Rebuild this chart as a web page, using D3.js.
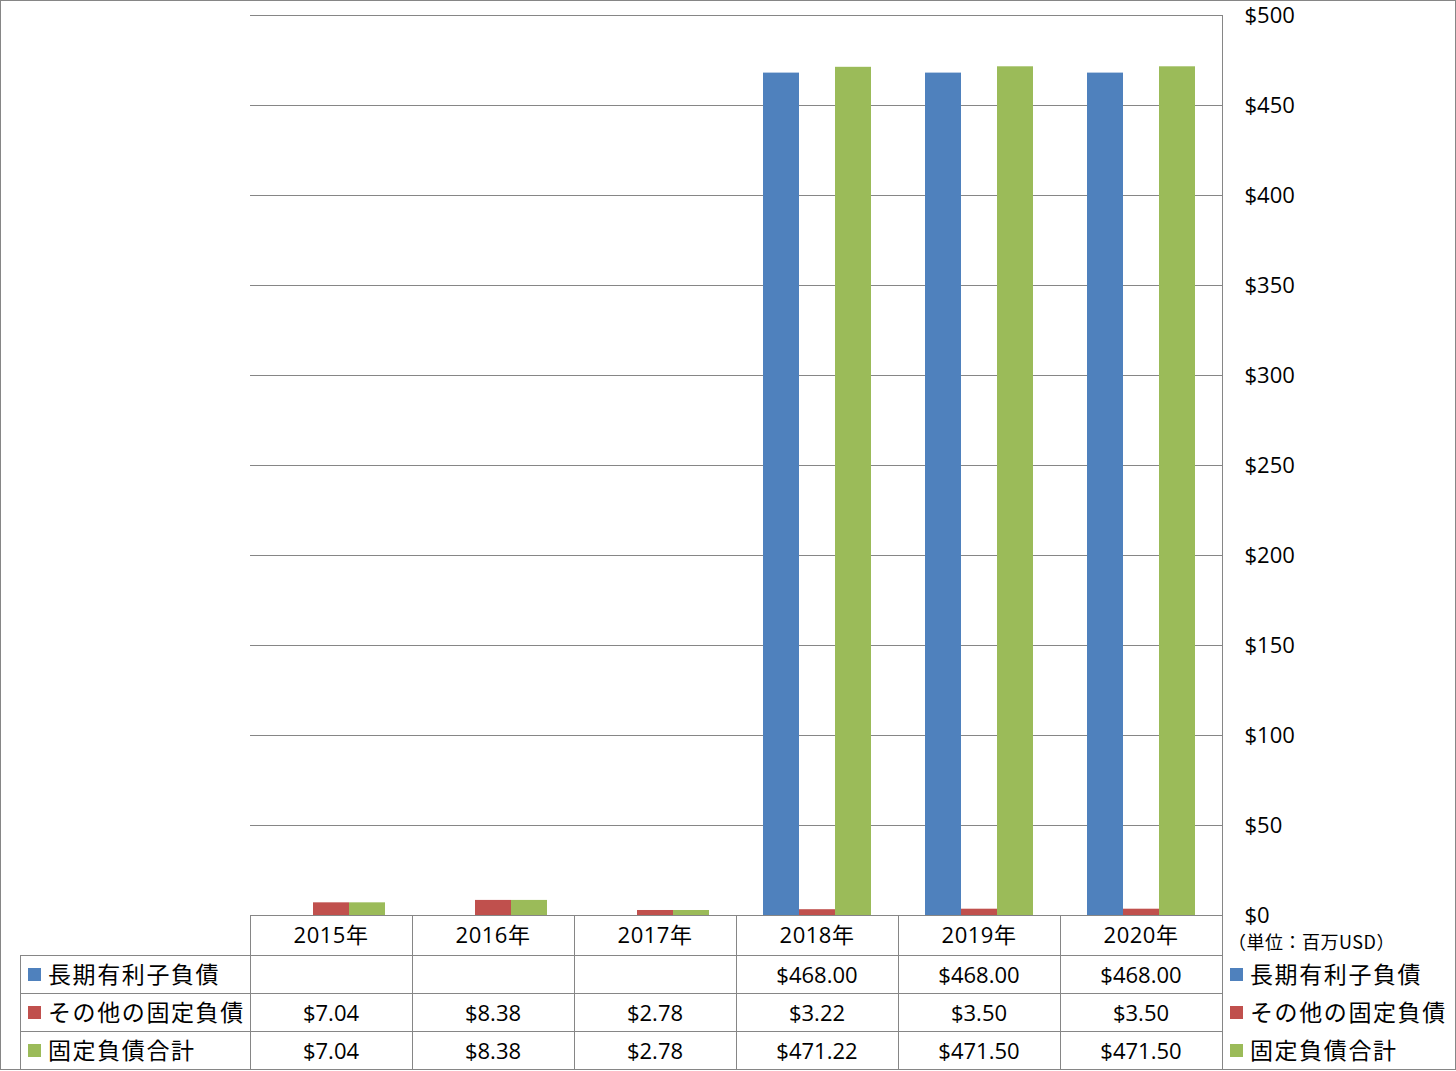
<!DOCTYPE html>
<html><head><meta charset="utf-8">
<script src="https://cdn.jsdelivr.net/npm/d3@7"></script>
<style>body{margin:0;background:#fff;}svg{display:block;font-family:"Noto Sans CJK JP","Noto Sans",sans-serif;}</style>
</head><body><svg id="c" width="1456" height="1071"></svg>
<script>
const categories = ["2015年","2016年","2017年","2018年","2019年","2020年"];
const seriesNames = ["長期有利子負債","その他の固定負債","固定負債合計"];
const seriesColors = ["#4F81BD","#C0504D","#9BBB59"];
const longTermDebt = [null,null,null,468.00,468.00,468.00];
const otherFixed = [7.04,8.38,2.78,3.22,3.50,3.50];
const totalFixed = [7.04,8.38,2.78,471.22,471.50,471.50];
const yTicks = [0,50,100,150,200,250,300,350,400,450,500];
const unitLabel = "（単位：百万USD）";

const series = [longTermDebt, otherFixed, totalFixed];
const svg = d3.select("#c");
const grid = "#868686";
const numFont = "'Open Sans','Noto Sans CJK JP',sans-serif";
const L = 250, R = 1222, T = 15, B = 915;

svg.append("rect").attr("x",0.5).attr("y",0.5).attr("width",1455).attr("height",1069)
  .attr("fill","#fff").attr("stroke",grid);

const x0 = d3.scaleBand().domain(categories).range([L,R]);
const x1 = d3.scaleBand().domain(d3.range(3)).range([27, x0.bandwidth()-27]);
const y = d3.scaleLinear().domain([0,500]).range([B,T]);

// gridlines
svg.append("g").selectAll("line").data(yTicks).join("line")
  .attr("x1",L).attr("x2",R).attr("y1",d=>Math.round(y(d))+0.5).attr("y2",d=>Math.round(y(d))+0.5)
  .attr("stroke",grid).attr("stroke-width",1);

// right axis
const axis = d3.axisRight(y).tickValues(yTicks).tickSize(0).tickPadding(22).tickFormat(d=>"$"+d);
const ag = svg.append("g").attr("transform",`translate(${R+0.5},0)`).call(axis);
ag.select(".domain").attr("stroke",grid).attr("d",`M0,${T}V${B+154}`);
ag.selectAll("text").attr("font-size",22).attr("fill","#000").attr("font-family",numFont).attr("dy","0.32em");

// bars
const g = svg.append("g");
categories.forEach((c,i)=>{
  series.forEach((s,j)=>{
    const v = s[i];
    if (v==null) return;
    g.append("rect").attr("x",x0(c)+x1(j)).attr("width",x1.bandwidth())
      .attr("y",y(v)).attr("height",y(0)-y(v)).attr("fill",seriesColors[j]);
  });
});

// table
const rowH = [915,955,993,1031,1069];
const tg = svg.append("g");
const line = (xa,ya,xb,yb)=>tg.append("line").attr("x1",xa).attr("y1",ya).attr("x2",xb).attr("y2",yb).attr("stroke",grid);
line(L,B+0.5,R,B+0.5);
[955,993,1031].forEach(yy=>line(20,yy+0.5,R,yy+0.5));
categories.forEach(c=>line(Math.round(x0(c))+0.5,B,Math.round(x0(c))+0.5,1069));
line(20.5,955,20.5,1069);

const fmt = v=> v==null ? "" : "$"+v.toFixed(2);
categories.forEach((c,i)=>{
  const cx = x0(c)+x0.bandwidth()/2;
  tg.append("text").attr("x",cx).attr("y",935).attr("dy","0.36em").attr("text-anchor","middle")
    .attr("font-size",22).attr("font-family",numFont).attr("letter-spacing","0.5px").text(c);
  series.forEach((s,j)=>{
    tg.append("text").attr("x",cx).attr("y",(rowH[j+1]+rowH[j+2])/2+1).attr("dy","0.36em")
      .attr("text-anchor","middle").attr("font-size",22).attr("font-family",numFont).text(fmt(s[i]));
  });
});

// legend in table (left) and right
seriesNames.forEach((n,j)=>{
  const cy = (rowH[j+1]+rowH[j+2])/2;
  [[28,48],[1230,1250]].forEach(([kx,tx])=>{
    tg.append("rect").attr("x",kx).attr("y",cy-6).attr("width",13).attr("height",13).attr("fill",seriesColors[j]);
    tg.append("text").attr("x",tx).attr("y",cy+1).attr("dy","0.36em").attr("font-size",23)
      .attr("letter-spacing","1.6px").text(n);
  });
});

svg.append("text").attr("x",1228).attr("y",943).attr("dy","0.36em").attr("font-size",18)
  .attr("letter-spacing","0.5px").text(unitLabel);
</script></body></html>
